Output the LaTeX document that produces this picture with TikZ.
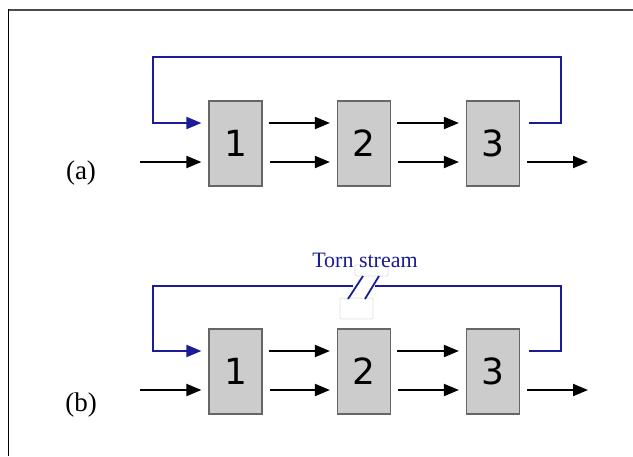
\documentclass[tikz,border=0pt]{standalone}
\usepackage{fontspec}
\setmainfont{Liberation Serif}
\newfontfamily\numfont{DejaVu Sans}
\usetikzlibrary{arrows.meta}
\definecolor{loopblue}{RGB}{28,28,150}
\definecolor{unitgray}{RGB}{204,204,204}
\tikzset{
  unit/.style={draw=black!60,line width=1.2pt,fill=unitgray,minimum width=53pt,minimum height=85pt,inner sep=0pt,font=\numfont\fontsize{36}{36}\selectfont},
  flow/.style={draw=black,line width=2pt,-{Triangle[length=15pt,width=12pt]},shorten >=7pt},
  recycle/.style={draw=loopblue,line width=2pt,-{Triangle[length=15pt,width=12pt]},shorten >=7pt},
  caselabel/.style={font=\fontsize{27}{27}\selectfont},
  ghost/.style={draw=black!12,line width=0.8pt,fill=white,rounded corners=1pt}
}
\begin{document}
\begin{tikzpicture}[x=1pt,y=-1pt]
    \useasboundingbox (0,0) rectangle (633,456);
    % frame
    \draw[black!70,line width=2pt] (8,9.5) -- (633,9.5);
    \draw[black,line width=1.5pt] (8.5,9) -- (8.5,456);

    % (a)
    \node[caselabel] (la) at (81,173) {(a)};
    \node[unit] (a1) at (235.5,143.5) {1};
    \node[unit] (a2) at (364,143.5) {2};
    \node[unit] (a3) at (493,143.5) {3};
    \coordinate (ina) at (140,162);
    \coordinate (outa) at (595,162);
    \coordinate (ra) at (561,57);
    \coordinate (ltop) at (153,57);
    \draw[flow] (ina) -- (a1.west |- ina);
    \draw[flow,shorten <=7pt] (a1.east |- ina) -- (a2.west |- ina);
    \draw[flow,shorten <=7pt] (a2.east |- ina) -- (a3.west |- ina);
    \draw[flow,shorten <=7pt] (a3.east |- ina) -- (outa);
    \draw[flow,shorten <=6pt] ([yshift=20.5pt]a1.east) -- ([yshift=20.5pt]a2.west);
    \draw[flow,shorten <=6pt] ([yshift=20.5pt]a2.east) -- ([yshift=20.5pt]a3.west);
    \draw[recycle] ([xshift=9pt,yshift=21pt]a3.east) -| (ra) -- (ltop) |- ([yshift=20.5pt]a1.west);

    % (b)
    \node[caselabel] (lb) at (81,405) {(b)};
    \node[unit] (b1) at (235.5,371.5) {1};
    \node[unit] (b2) at (364,371.5) {2};
    \node[unit] (b3) at (493,371.5) {3};
    \coordinate (inb) at (140,390);
    \coordinate (outb) at (595,390);
    \coordinate (rb) at (561,286);
    \coordinate (lbtop) at (153,286);
    \coordinate (cutl) at (353,286);
    \coordinate (cutr) at (375,286);
    \draw[flow] (inb) -- (b1.west |- inb);
    \draw[flow,shorten <=7pt] (b1.east |- inb) -- (b2.west |- inb);
    \draw[flow,shorten <=7pt] (b2.east |- inb) -- (b3.west |- inb);
    \draw[flow,shorten <=7pt] (b3.east |- inb) -- (outb);
    \draw[flow,shorten <=6pt] ([yshift=20.5pt]b1.east) -- ([yshift=20.5pt]b2.west);
    \draw[flow,shorten <=6pt] ([yshift=20.5pt]b2.east) -- ([yshift=20.5pt]b3.west);
    \draw[draw=loopblue,line width=2pt] ([xshift=9pt,yshift=21pt]b3.east) -| (rb) -- (cutr);
    \draw[recycle] (cutl) -- (lbtop) |- ([yshift=20.5pt]b1.west);
    % torn stream
    \draw[ghost] (340,298) rectangle (373,319);
    \draw[ghost] (355,265) rectangle (388,276);
    \node[text=loopblue,font=\fontsize{22}{22}\selectfont] (torn) at (365,260) {Torn stream};
    \draw[loopblue,line width=1.8pt] (348,299) -- (363,276);
    \draw[loopblue,line width=1.8pt] (365,299) -- (379,276);
\end{tikzpicture}
\end{document}
